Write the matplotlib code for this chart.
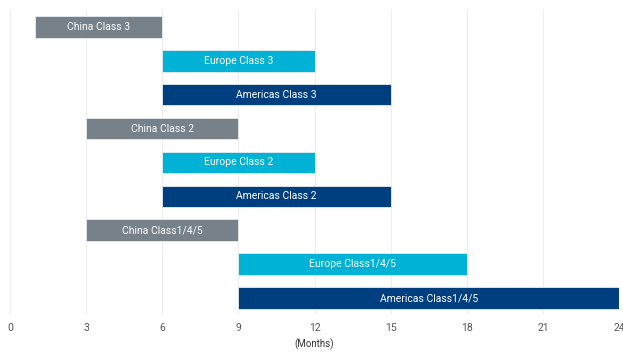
import matplotlib.pyplot as plt

# Data
labels = ["China Class 3", "Europe Class 3", "Americas Class 3",
          "China Class 2", "Europe Class 2", "Americas Class 2",
          "China Class1/4/5", "Europe Class1/4/5", "Americas Class1/4/5"]
starts = [1, 6, 6, 3, 6, 6, 3, 9, 9]
ends = [6, 12, 15, 9, 12, 15, 9, 18, 24]
regions = ["China", "Europe", "Americas"] * 3
xticks = [0, 3, 6, 9, 12, 15, 18, 21, 24]

colors = {"China": "#76818a", "Europe": "#00b2d6", "Americas": "#003f7f"}

plt.rcParams['font.family'] = ['Roboto', 'DejaVu Sans']

fig = plt.figure(figsize=(6.23, 3.52), dpi=100)
ax = fig.add_axes([0.016, 0.105, 0.978, 0.867])

ypos = list(range(len(labels)))
widths = [e - s for s, e in zip(starts, ends)]
ax.barh(ypos, widths, left=starts, height=0.64,
        color=[colors[r] for r in regions], edgecolor="#e6ecf0", linewidth=0.6,
        zorder=2)

for y, s, e, lab in zip(ypos, starts, ends, labels):
    ax.text((s + e) / 2, y, lab, ha="center", va="center",
            color="white", fontsize=7.5, zorder=3)

ax.set_xlim(0, 24)
ax.set_ylim(len(labels) - 0.5, -0.5)
ax.set_xticks(xticks)
ax.set_yticks([])
ax.grid(axis="x", color="#eeeeee", linewidth=0.8, zorder=0)
ax.tick_params(axis="x", length=0, pad=6, labelsize=7.5, labelcolor="#555555")
for sp in ax.spines.values():
    sp.set_visible(False)
ax.set_xlabel("(Months)", fontsize=7, color="#333333", labelpad=4)

fig.savefig("out.png", dpi=100)
